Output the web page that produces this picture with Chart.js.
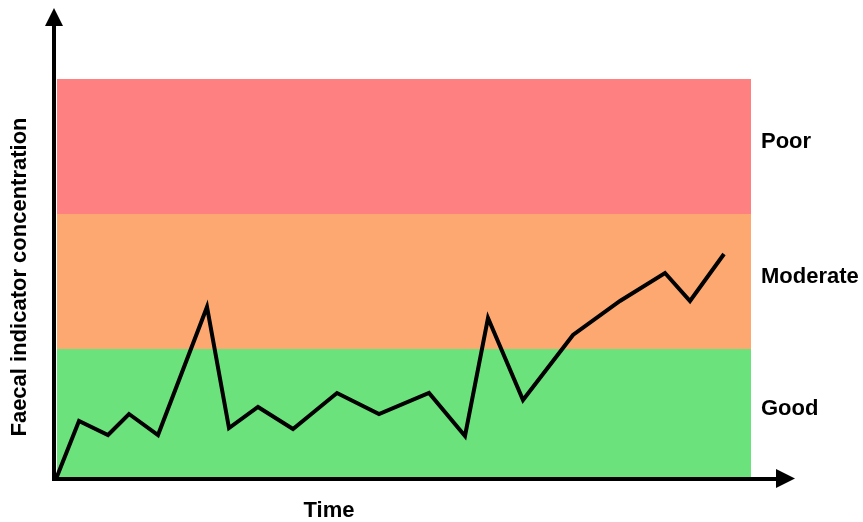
<!DOCTYPE html>
<html>
<head>
<meta charset="utf-8">
<script src="https://cdn.jsdelivr.net/npm/chart.js@4"></script>
<style>
  html, body { margin: 0; padding: 0; background: #fff; }
  #wrap { width: 863px; height: 522px; position: relative; }
</style>
</head>
<body>
<div id="wrap"><canvas id="chart"></canvas></div>
<script>
// time (arbitrary units) and concentration readings along the line
const timeValues = [2, 25, 54, 75, 104, 153, 175, 204, 239, 283, 325, 375, 411, 434, 469, 519, 566, 611, 636, 670];
const concValues = [0, 58, 44, 65, 44, 172, 51, 72, 50, 86, 65, 86, 43, 161, 79, 144, 178, 206, 178, 225];

// quality bands (lower, upper limits)
const bandNames = ["Good", "Moderate", "Poor"];
const bandLower = [0, 130, 265];
const bandUpper = [130, 265, 400];
const bandColors = ["#6be27c", "#fda870", "#ff8080"];
const bandStart = 3;
const bandEnd = 697;

const xMax = 741;
const yMax = 471;

const bandsPlugin = {
  id: "bands",
  beforeDatasetsDraw(chart) {
    const { ctx, scales: { x, y } } = chart;
    ctx.save();
    bandNames.forEach((name, i) => {
      const left = x.getPixelForValue(bandStart);
      const right = x.getPixelForValue(bandEnd);
      const top = y.getPixelForValue(bandUpper[i]);
      const bottom = y.getPixelForValue(bandLower[i]);
      ctx.fillStyle = bandColors[i];
      ctx.fillRect(left, top, right - left, bottom - top);
    });
    ctx.restore();
  },
  afterDraw(chart) {
    const { ctx, chartArea: a, scales: { x, y } } = chart;
    ctx.save();
    ctx.fillStyle = "#000";
    ctx.strokeStyle = "#000";

    // y axis with arrow
    ctx.lineWidth = 4;
    ctx.beginPath();
    ctx.moveTo(a.left, a.bottom + 2);
    ctx.lineTo(a.left, a.top + 18);
    ctx.stroke();
    ctx.beginPath();
    ctx.moveTo(a.left - 9, a.top + 18);
    ctx.lineTo(a.left + 9, a.top + 18);
    ctx.lineTo(a.left, a.top);
    ctx.closePath();
    ctx.fill();

    // x axis with arrow
    ctx.beginPath();
    ctx.moveTo(a.left - 2, a.bottom);
    ctx.lineTo(a.right - 19, a.bottom);
    ctx.stroke();
    ctx.beginPath();
    ctx.moveTo(a.right - 19, a.bottom - 10);
    ctx.lineTo(a.right - 19, a.bottom + 9);
    ctx.lineTo(a.right, a.bottom - 0.5);
    ctx.closePath();
    ctx.fill();

    // band labels
    ctx.font = "bold 22px 'Liberation Sans', Arial, sans-serif";
    ctx.textAlign = "left";
    ctx.textBaseline = "middle";
    bandNames.forEach((name, i) => {
      const mid = y.getPixelForValue((bandLower[i] + bandUpper[i]) / 2);
      ctx.fillText(name, x.getPixelForValue(bandEnd) + 10, mid - 5);
    });

    // axis titles
    ctx.textAlign = "center";
    ctx.fillText("Time", 329, 511);
    ctx.translate(20, 277);
    ctx.rotate(-Math.PI / 2);
    ctx.fillText("Faecal indicator concentration", 0, 0);
    ctx.restore();
  }
};

new Chart(document.getElementById("chart"), {
  type: "line",
  data: {
    datasets: [{
      data: timeValues.map((t, i) => ({ x: t, y: concValues[i] })),
      borderColor: "#000",
      borderWidth: 4,
      borderJoinStyle: "miter",
      pointRadius: 0,
      tension: 0,
      fill: false,
      clip: false
    }]
  },
  options: {
    responsive: true,
    maintainAspectRatio: false,
    animation: false,
    layout: { padding: { left: 54, right: 68, top: 8, bottom: 43 } },
    plugins: { legend: { display: false }, tooltip: { enabled: false } },
    scales: {
      x: { type: "linear", min: 0, max: xMax, display: false },
      y: { min: 0, max: yMax, display: false }
    }
  },
  plugins: [bandsPlugin]
});
</script>
</body>
</html>
